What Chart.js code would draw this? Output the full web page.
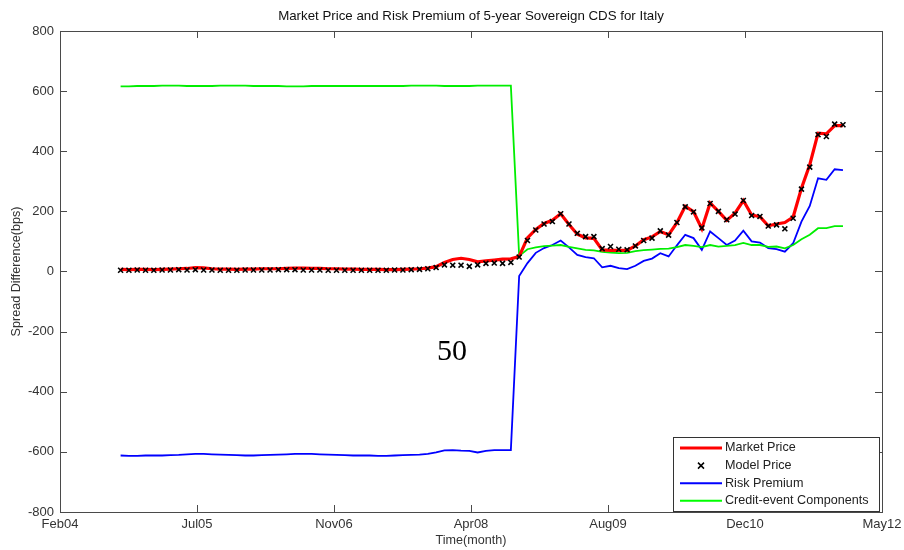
<!DOCTYPE html>
<html>
<head>
<meta charset="utf-8">
<script src="https://cdn.jsdelivr.net/npm/chart.js@4.4.1/dist/chart.umd.min.js"></script>
<style>
  html, body { margin: 0; padding: 0; background: #fff; }
  canvas { display: block; }
</style>
</head>
<body>
<canvas id="cds" width="904" height="550"></canvas>
<script>
'use strict';

/* ---- data (monthly, month 0 = Feb04) ---- */
const X_TICK_LABELS = ['Feb04', 'Jul05', 'Nov06', 'Apr08', 'Aug09', 'Dec10', 'May12'];
const X_TICK_STEP = 16.5;
const FIRST_MONTH = 7.3;   // ~Sep04

const marketPrice = [
  7, 6, 7, 7, 6, 7, 8, 9, 10, 13, 12, 9, 8, 8, 7, 8, 8, 9, 9, 9,
  10, 11, 11, 10, 10, 9, 9, 8, 8, 7, 7, 7, 6, 6, 7, 8, 9, 11,
  16, 30, 40, 44, 40, 32, 35, 38, 41, 42,
  50, 112, 140, 160, 170, 192, 156, 124, 112, 110, 72, 70, 70, 70, 85, 106, 115, 133, 122, 162,
  217, 199, 142, 228, 200, 170, 194, 236, 188, 182, 152, 158, 163, 181, 277, 355, 460, 458, 485, 485
];

const modelPrice = [
  4, 4, 5, 4, 4, 5, 5, 6, 5, 6, 5, 5, 4, 4, 4, 5, 5, 5, 5, 6,
  6, 6, 5, 5, 5, 4, 4, 4, 4, 4, 4, 4, 4, 5, 5, 6, 7, 9,
  13, 22, 21, 21, 17, 22, 27, 28, 27, 30,
  48, 103, 138, 158, 166, 192, 158, 127, 116, 116, 76, 83, 74, 72, 85, 103, 111, 135, 121, 163,
  215, 198, 145, 226, 200, 172, 191, 236, 186, 183, 151, 155, 142, 177, 274, 347, 455, 449, 490, 488
];

const riskPremium = [
  -612, -613, -613, -612, -612, -612, -611, -610, -608, -607,
  -607, -608, -609, -610, -611, -612, -612, -611, -610, -609,
  -608, -607, -607, -607, -608, -609, -610, -611, -612, -612,
  -612, -613, -613, -612, -611, -610, -609, -607,
  -602, -595, -594, -596, -597, -602, -597, -594, -594, -594,
  -15, 28, 62, 78, 88, 103, 80, 55, 48, 44, 14, 19, 11, 8, 19, 35, 43, 61, 50, 87,
  122, 111, 72, 133, 111, 88, 103, 136, 100, 96, 78, 74, 66, 94, 166, 218, 310, 305, 340, 337
];

const creditEvent = [
  616, 616, 617, 617, 617, 618, 618, 618, 617, 617,
  617, 617, 618, 618, 618, 618, 617, 617, 617, 617,
  616, 616, 616, 617, 617, 617, 617, 617, 617, 617,
  617, 617, 617, 617, 617, 618, 618, 618, 618, 617,
  617, 617, 617, 618, 618, 618, 618, 618,
  52, 74, 80, 84, 86, 88, 82, 77, 72, 70, 65, 63, 61, 62, 68, 71, 73, 75, 76, 81,
  88, 85, 81, 88, 83, 85, 88, 95, 88, 88, 82, 83, 77, 88, 107, 122, 144, 144, 151, 151
];

const months = marketPrice.map((_, i) => FIRST_MONTH + i);
const toPoints = vals => vals.map((v, i) => ({ x: months[i], y: v }));

const FONT = "'Liberation Sans', Arial, sans-serif";
const TEXT = '#333333';
const AXIS = '#4a4a4a';

/* ---- matlab-like box with inward ticks ---- */
const axisBox = {
  id: 'axisBox',
  beforeDatasetsDraw(chart) {
    const { ctx, chartArea: a, scales: { x, y } } = chart;
    const tl = 7;
    ctx.save();
    ctx.strokeStyle = AXIS;
    ctx.lineWidth = 1;
    ctx.strokeRect(Math.round(a.left) + 0.5, Math.round(a.top) + 0.5,
      Math.round(a.right - a.left), Math.round(a.bottom - a.top));
    ctx.beginPath();
    x.ticks.forEach(t => {
      const px = Math.round(x.getPixelForValue(t.value)) + 0.5;
      ctx.moveTo(px, a.bottom); ctx.lineTo(px, a.bottom - tl);
      ctx.moveTo(px, a.top); ctx.lineTo(px, a.top + tl);
    });
    y.ticks.forEach(t => {
      const py = Math.round(y.getPixelForValue(t.value)) + 0.5;
      ctx.moveTo(a.left, py); ctx.lineTo(a.left + tl, py);
      ctx.moveTo(a.right, py); ctx.lineTo(a.right - tl, py);
    });
    ctx.stroke();
    ctx.restore();
  }
};

/* ---- legend box in the lower right + the stray "50" label ---- */
const insetLegend = {
  id: 'insetLegend',
  afterDraw(chart) {
    const { ctx, chartArea: a } = chart;
    const items = [
      { label: 'Market Price', color: '#ff0000', width: 3, marker: false },
      { label: 'Model Price', color: '#000000', width: 1.5, marker: true },
      { label: 'Risk Premium', color: '#0000ff', width: 2, marker: false },
      { label: 'Credit-event Components', color: '#00ff00', width: 2, marker: false },
    ];
    const bw = 206, bh = 74;
    const bx = Math.round(a.right) - 209, by = Math.round(a.bottom) - 75;
    ctx.save();
    ctx.fillStyle = '#fff';
    ctx.fillRect(bx, by, bw, bh);
    ctx.strokeStyle = '#333';
    ctx.lineWidth = 1;
    ctx.strokeRect(bx + 0.5, by + 0.5, bw, bh);
    ctx.font = '12.6px ' + FONT;
    ctx.textBaseline = 'middle';
    items.forEach((it, i) => {
      const cy = by + 11 + i * 17.6;
      ctx.strokeStyle = it.color;
      ctx.lineWidth = it.width;
      ctx.beginPath();
      if (it.marker) {
        const mx = bx + 28, r = 3;
        ctx.moveTo(mx - r, cy - r); ctx.lineTo(mx + r, cy + r);
        ctx.moveTo(mx - r, cy + r); ctx.lineTo(mx + r, cy - r);
      } else {
        ctx.moveTo(bx + 7, cy); ctx.lineTo(bx + 49, cy);
      }
      ctx.stroke();
      ctx.fillStyle = '#222';
      ctx.fillText(it.label, bx + 52, cy);
    });
    ctx.restore();

    ctx.save();
    ctx.font = "30px 'Liberation Serif', 'Times New Roman', serif";
    ctx.fillStyle = '#000';
    ctx.textAlign = 'center';
    ctx.textBaseline = 'alphabetic';
    ctx.fillText('50', 452, 360);
    ctx.restore();
  }
};

const lineSet = (label, vals, color, width) => ({
  label,
  data: toPoints(vals),
  borderColor: color,
  backgroundColor: color,
  borderWidth: width,
  pointRadius: 0,
  tension: 0,
  fill: false,
});

new Chart(document.getElementById('cds').getContext('2d'), {
  type: 'line',
  data: {
    datasets: [
      {
        label: 'Model Price',
        data: toPoints(modelPrice),
        showLine: false,
        pointStyle: 'crossRot',
        pointRadius: 3.5,
        pointBorderWidth: 1.6,
        borderColor: '#000',
        backgroundColor: '#000',
      },
      lineSet('Market Price', marketPrice, '#ff0000', 3.2),
      lineSet('Credit-event Components', creditEvent, '#00ee00', 1.8),
      lineSet('Risk Premium', riskPremium, '#0000ff', 1.8),
    ],
  },
  options: {
    responsive: false,
    animation: false,
    layout: { padding: { left: 0, right: 22, top: 0, bottom: 0 } },
    plugins: {
      legend: { display: false },
      tooltip: { enabled: false },
      title: {
        display: true,
        fullSize: false,
        text: 'Market Price and Risk Premium of 5-year Sovereign CDS for Italy',
        color: '#111',
        font: { family: FONT, size: 13.3, weight: 'normal', lineHeight: 1.2 },
        padding: { top: 8, bottom: 7 },
      },
    },
    scales: {
      x: {
        type: 'linear',
        min: 0,
        max: 99,
        grid: { display: false, drawTicks: false },
        border: { display: false },
        ticks: {
          stepSize: X_TICK_STEP,
          autoSkip: false,
          maxRotation: 0,
          padding: 5,
          color: TEXT,
          font: { family: FONT, size: 13 },
          callback: (v, i) => X_TICK_LABELS[i],
        },
        title: {
          display: true,
          text: 'Time(month)',
          color: TEXT,
          font: { family: FONT, size: 12.6 },
          padding: { top: 0, bottom: 2 },
        },
        afterFit(s) { s.height = 38; s.paddingLeft = 0; s.paddingRight = 0; },
      },
      y: {
        min: -800,
        max: 800,
        grid: { display: false, drawTicks: false },
        border: { display: false },
        ticks: {
          stepSize: 200,
          padding: 6,
          color: TEXT,
          font: { family: FONT, size: 13 },
        },
        title: {
          display: true,
          text: 'Spread Difference(bps)',
          color: TEXT,
          font: { family: FONT, size: 12.6 },
          padding: { top: 9, bottom: 0 },
        },
        afterFit(s) { s.width = 60; },
      },
    },
  },
  plugins: [axisBox, insetLegend],
});
</script>
</body>
</html>
